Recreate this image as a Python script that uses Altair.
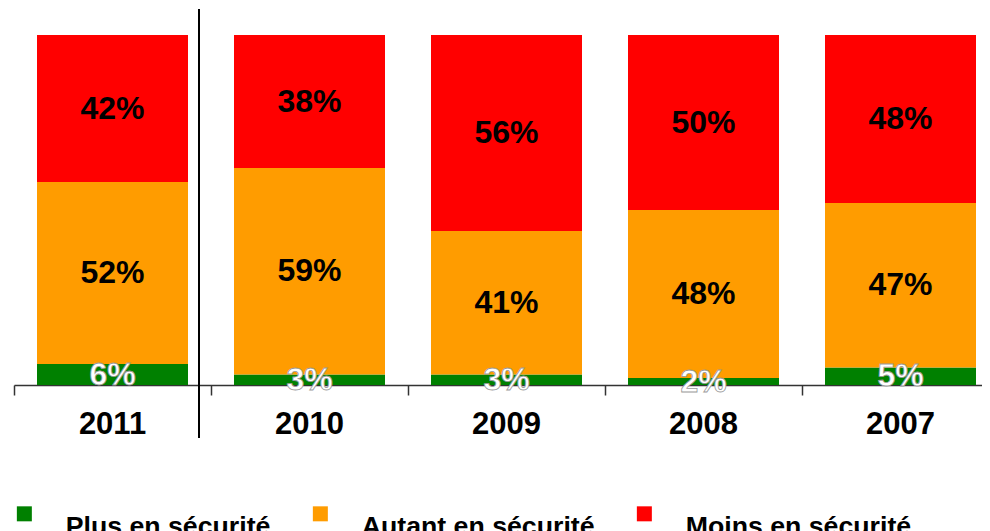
import altair as alt
import pandas as pd

years = ["2011", "2010", "2009", "2008", "2007"]
categories = ["Plus en sécurité", "Autant en sécurité", "Moins en sécurité"]
plus = [6, 3, 3, 2, 5]
autant = [52, 59, 41, 48, 47]
moins = [42, 38, 56, 50, 48]
colors = ["#008000", "#FF9C00", "#FF0000"]

rows = []
for i, y in enumerate(years):
    for k, (cat, vals) in enumerate(zip(categories, [plus, autant, moins])):
        rows.append({"year": y, "idx": i, "cat": cat, "value": vals[i], "order": k,
                     "label": f"{vals[i]}%"})
df = pd.DataFrame(rows)
years_df = pd.DataFrame({"year": years, "idx": list(range(len(years)))})

FONT = "Liberation Sans, Arial, sans-serif"
W = 968
STEP = 197

base = alt.Chart(df).transform_stack(
    stack="value", groupby=["year"], as_=["v0", "v1"],
    sort=[alt.SortField("order", order="ascending")]
).transform_calculate(mid="(datum.v0 + datum.v1) / 2")

xscale = alt.Scale(domain=[-0.5, W / STEP - 0.5], nice=False, zero=False, padding=0)
tick_vals = [i - 0.5 for i in range(len(years))]
xenc = alt.X("idx:Q", title=None, scale=xscale,
             axis=alt.Axis(values=tick_vals, labels=False,
                           tickSize=10, tickColor="#333", tickWidth=1.5,
                           domainColor="#333", domainWidth=1.5, grid=False))
yscale = alt.Scale(domain=[0, 100])

bars = base.mark_bar(width=151).encode(
    x=xenc,
    y=alt.Y("v0:Q", scale=yscale, axis=None),
    y2="v1:Q",
    color=alt.Color("cat:N", scale=alt.Scale(domain=categories, range=colors),
                    legend=alt.Legend(orient="none", legendX=-3, legendY=465,
                                      direction="horizontal", title=None,
                                      symbolType="square", symbolSize=225,
                                      symbolStrokeWidth=0, symbolOpacity=1,
                                      labelFont=FONT, labelFontSize=26.7,
                                      labelFontWeight="bold", labelColor="black",
                                      labelOffset=28, columnPadding=36,
                                      labelLimit=500, padding=0,
                                      labelBaseline="top")),
    order=alt.Order("order:Q"),
)

txt_dark = base.transform_filter("datum.order > 0").mark_text(
    font=FONT, fontSize=32, fontWeight="bold", color="black", baseline="middle"
).encode(x=alt.X("idx:Q", scale=xscale), y=alt.Y("mid:Q", scale=yscale), text="label:N")

txt_light = base.transform_filter("datum.order == 0").mark_text(
    font=FONT, fontSize=32, fontWeight="bold", color="white", baseline="middle",
    stroke="#9a9a9a", strokeWidth=0.8
).encode(x=alt.X("idx:Q", scale=xscale), y=alt.Y("mid:Q", scale=yscale), text="label:N")

year_labels = alt.Chart(years_df).mark_text(
    font=FONT, fontSize=31, fontWeight="bold", color="black", baseline="middle"
).encode(x=alt.X("idx:Q", scale=xscale), y=alt.value(390), text="year:N")

sep = alt.Chart(years_df).mark_rule(color="black", strokeWidth=2).encode(
    x=alt.value(185), y=alt.value(-26), y2=alt.value(403))

chart = alt.layer(bars, txt_dark, txt_light, year_labels, sep).properties(
    width=W, height=350,
    padding={"left": 6, "top": 27, "right": 0, "bottom": 146},
    autosize=alt.AutoSizeParams(type="none"),
).configure_view(stroke=None)

chart.save("out.html", embed_options={"renderer": "svg", "actions": False})
